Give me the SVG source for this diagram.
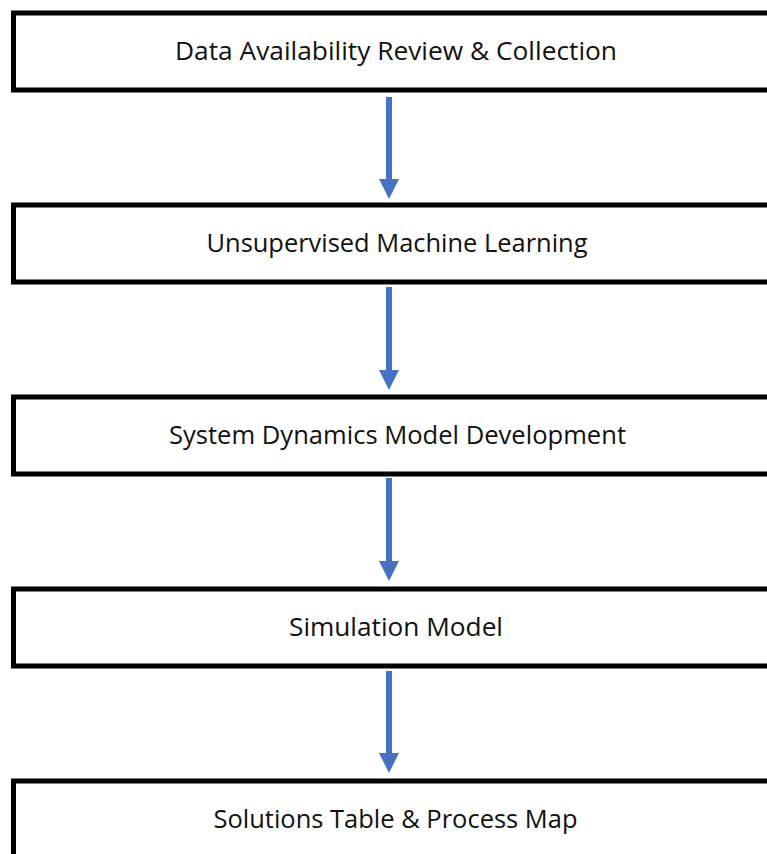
<svg xmlns="http://www.w3.org/2000/svg" width="767" height="854" viewBox="0 0 767 854">
<style>
.box{fill:#fff;stroke:#000;stroke-width:5}
.lbl{font-family:"Open Sans","Noto Sans","Liberation Sans",sans-serif;font-size:25px;fill:#111;text-anchor:middle}
.arr{stroke:#4472C4;stroke-width:6;fill:none}
.head{fill:#4472C4}
</style>
<rect width="767" height="854" fill="#fff"/>
<g id="connectors">
<line class="arr" x1="389" y1="97" x2="389" y2="181"/>
<polygon class="head" points="379,179 399,179 389,199"/>
<line class="arr" x1="389" y1="287" x2="389" y2="372"/>
<polygon class="head" points="379,370 399,370 389,390"/>
<line class="arr" x1="389" y1="478" x2="389" y2="563"/>
<polygon class="head" points="379,561 399,561 389,581"/>
<line class="arr" x1="389" y1="671" x2="389" y2="755"/>
<polygon class="head" points="379,753 399,753 389,773"/>
</g>
<g id="n1"><rect class="box" x="13.5" y="13" width="800" height="77"/><text class="lbl" x="396" y="60" textLength="442" lengthAdjust="spacingAndGlyphs">Data Availability Review &amp; Collection</text></g>
<g id="n2"><rect class="box" x="13.5" y="205" width="800" height="77"/><text class="lbl" x="397" y="252" textLength="381" lengthAdjust="spacingAndGlyphs">Unsupervised Machine Learning</text></g>
<g id="n3"><rect class="box" x="13.5" y="397" width="800" height="77"/><text class="lbl" x="397.5" y="444" textLength="457" lengthAdjust="spacingAndGlyphs">System Dynamics Model Development</text></g>
<g id="n4"><rect class="box" x="13.5" y="589" width="800" height="77"/><text class="lbl" x="396" y="636" textLength="214" lengthAdjust="spacingAndGlyphs">Simulation Model</text></g>
<g id="n5"><rect class="box" x="13.5" y="781" width="800" height="100"/><text class="lbl" x="395.5" y="828" textLength="364" lengthAdjust="spacingAndGlyphs">Solutions Table &amp; Process Map</text></g>
</svg>
